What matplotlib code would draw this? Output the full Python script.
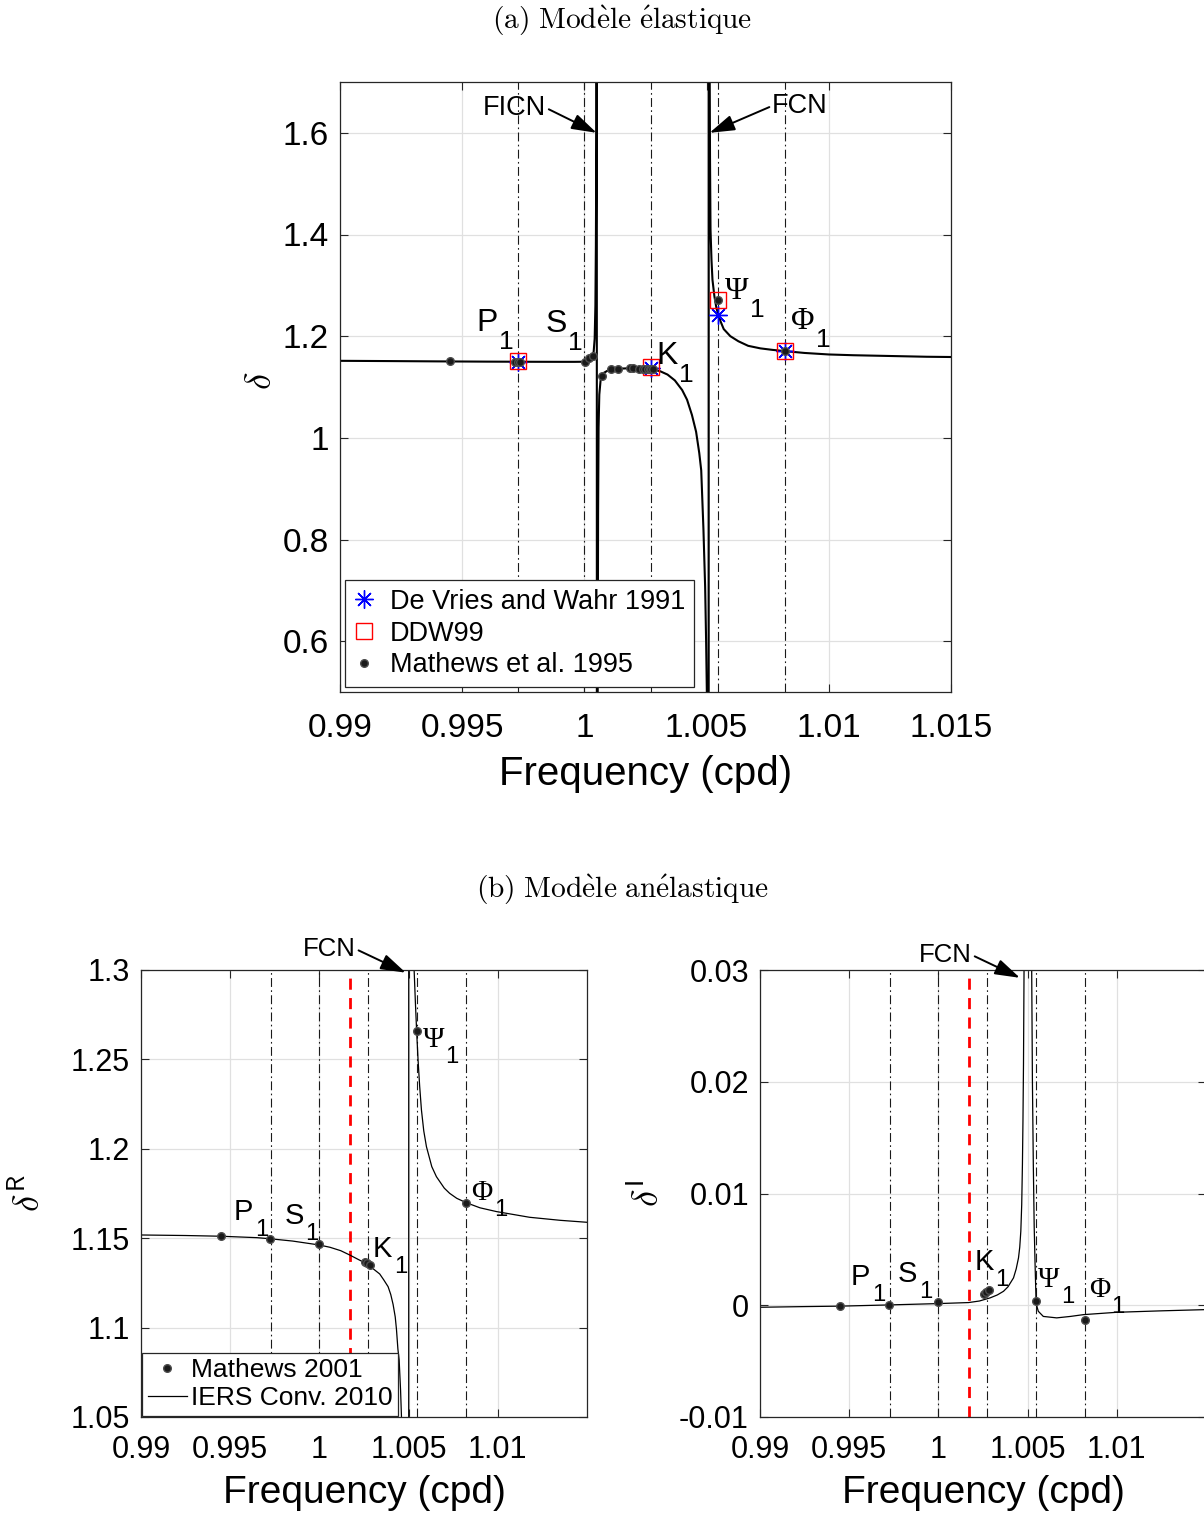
"""Facteur gravimétrique delta autour de la bande diurne (FCN / FICN).

(a) modèle élastique : courbe + valeurs De Vries & Wahr, DDW99, Mathews 1995
(b) modèle anélastique : partie réelle et imaginaire (Mathews 2001, IERS 2010)
"""

import matplotlib.pyplot as plt

plt.rcParams["font.family"] = ["Liberation Sans", "DejaVu Sans"]
plt.rcParams["mathtext.fontset"] = "cm"

# ---- tidal waves (cpd) -------------------------------------------------
TIDE_NAMES = ["P", "S", "K", "\u03a8", "\u03a6"]
TIDE_FREQ = [0.99727, 1.00000, 1.00274, 1.00548, 1.00821]
RED_LINE_FREQ = 1.0017

# ---- (a) elastic model: curve ------------------------------------------
XA_CURVE = [0.9900, 0.9920, 0.9940, 0.9960, 0.9980, 0.9990, 0.9996, 1.0000,
            1.0001, 1.0002, 1.0003, 1.00034, 1.00038, 1.00042, 1.00045,
            1.00047, 1.00049, 1.000505,
            1.000515, 1.00054, 1.00056, 1.00058, 1.00061, 1.00066, 1.00071,
            1.0008, 1.0010, 1.0013, 1.0017, 1.0021, 1.0025, 1.0028, 1.0031,
            1.0034, 1.0037, 1.0040, 1.0042, 1.0044, 1.00457, 1.0047, 1.00478,
            1.00487, 1.00494, 1.00498, 1.00501, 1.00505, 1.00508,
            1.00509, 1.00512, 1.00514, 1.00516, 1.0052, 1.00524, 1.00532,
            1.0054, 1.00548, 1.00558, 1.0057, 1.00597, 1.0063, 1.0067,
            1.0072, 1.0077, 1.0082, 1.0090, 1.0100, 1.0110, 1.0125, 1.0140,
            1.0150]
YA_CURVE = [1.1515, 1.1510, 1.1504, 1.1499, 1.1496, 1.1495, 1.1495, 1.1497,
            1.1515, 1.1555, 1.1590, 1.1615, 1.1700, 1.1950, 1.2600,
            1.3800, 1.6000, 4.0,
            -4.0, 0.40, 0.85, 1.02, 1.085, 1.112, 1.121,
            1.128, 1.1335, 1.1358, 1.1366, 1.1364, 1.1358, 1.1345, 1.1310,
            1.1245, 1.1130, 1.0940, 1.0750, 1.0450, 1.0120, 0.9700, 0.9360,
            0.8210, 0.7070, 0.6000, 0.5000, 0.2000, -4.0,
            4.0, 1.80, 1.55, 1.41, 1.35, 1.311, 1.278,
            1.256, 1.242, 1.228, 1.214, 1.200, 1.190, 1.181,
            1.176, 1.173, 1.1706, 1.167, 1.164, 1.1625, 1.161, 1.1595,
            1.159]

DV_X = [0.99727, 1.00274, 1.00548, 1.00821]
DV_Y = [1.150, 1.137, 1.241, 1.170]
DDW_X = [0.99727, 1.00274, 1.00548, 1.00821]
DDW_Y = [1.151, 1.139, 1.2706, 1.1715]
M95_X = [0.99450, 0.99718, 0.99727, 0.99735, 1.00002, 1.00020, 1.00034,
         1.00071, 1.00110, 1.00139, 1.00187, 1.00200, 1.00224, 1.00238,
         1.00250, 1.00260, 1.00268, 1.00274, 1.00280, 1.00548, 1.00821]
M95_Y = [1.1510, 1.1496, 1.1496, 1.1496, 1.1496, 1.1563, 1.1614,
         1.1210, 1.1345, 1.1362, 1.1366, 1.1364, 1.1360, 1.1357,
         1.1355, 1.1352, 1.1350, 1.1350, 1.1347, 1.2706, 1.1706]

# ---- (b) anelastic model: real part -----------------------------------
XR_CURVE = [0.9900, 0.9925, 0.99448, 0.9965, 0.99722, 0.9985, 1.0000, 1.0006,
            1.0012, 1.0017, 1.0022, 1.0026, 1.0030, 1.00338, 1.0036, 1.00385,
            1.0040, 1.00413, 1.00425, 1.00432, 1.0044, 1.00447, 1.00455,
            1.00460, 1.0047, 1.0049, 1.00500,
            1.00501, 1.00515, 1.00525, 1.00531, 1.00538, 1.00545, 1.00553,
            1.00562, 1.00572, 1.00585, 1.0060, 1.0063, 1.00656, 1.0070,
            1.0073, 1.0077, 1.00822, 1.0090, 1.00992, 1.01178, 1.0135, 1.0150]
YR_CURVE = [1.1518, 1.1515, 1.1511, 1.1503, 1.1497, 1.1484, 1.1462, 1.1449,
            1.1430, 1.1406, 1.1380, 1.1360, 1.1330, 1.1300, 1.1268, 1.1229,
            1.1185, 1.1130, 1.1060, 1.0990, 1.0880, 1.0819, 1.0650,
            1.0502, 1.0100, 0.9000, -3.0,
            3.0, 1.45, 1.34, 1.300, 1.282, 1.2659, 1.2497,
            1.235, 1.2217, 1.210, 1.2012, 1.190, 1.1844, 1.178,
            1.1751, 1.1723, 1.1699, 1.1670, 1.1649, 1.1617, 1.1600, 1.1589]
M01_X = [0.99448, 0.99722, 0.99999, 1.00258, 1.00265, 1.00282, 1.00545, 1.00822]
M01_R = [1.1512, 1.1497, 1.1465, 1.1367, 1.1360, 1.1350, 1.2659, 1.1699]

# ---- (b) anelastic model: imaginary part ------------------------------
XI_CURVE = [0.9900, 0.9925, 0.99450, 0.99726, 1.00001, 1.00169, 1.0023,
            1.0029, 1.0033, 1.00365, 1.0039, 1.00421, 1.00436, 1.00449,
            1.00456, 1.00462, 1.00467, 1.00471, 1.00474, 1.00477, 1.00480,
            1.00486, 1.00495, 1.00505, 1.00512, 1.00518, 1.00523, 1.00527,
            1.00532, 1.00537, 1.00542, 1.00547, 1.00553, 1.00560, 1.00588,
            1.00663, 1.0074, 1.00813, 1.0100, 1.0125, 1.0150]
YI_CURVE = [-0.00018, -0.00012, -0.00008, 0.00003, 0.00015, 0.00024, 0.00038,
            0.00066, 0.00092, 0.00125, 0.00165, 0.00245, 0.00325, 0.00424,
            0.00520, 0.00663, 0.00900, 0.01260, 0.01650, 0.02160, 0.02990,
            0.06, 0.20, 0.25, 0.12, 0.05, 0.0299, 0.0200,
            0.0126, 0.0070, 0.0036, 0.00066, -0.00015, -0.00054, -0.00100,
            -0.00113, -0.00100, -0.00084, -0.00063, -0.00050, -0.00039]
M01_I = [-0.00003, 0.00002, 0.00030, 0.00105, 0.00115, 0.00140, 0.00036, -0.00128]

XTICKS_A = [0.99, 0.995, 1.0, 1.005, 1.01, 1.015]
XLABELS_A = ["0.99", "0.995", "1", "1.005", "1.01", "1.015"]
YTICKS_A = [0.6, 0.8, 1.0, 1.2, 1.4, 1.6]
YLABELS_A = ["0.6", "0.8", "1", "1.2", "1.4", "1.6"]
XTICKS_B = [0.99, 0.995, 1.0, 1.005, 1.01]
XLABELS_B = ["0.99", "0.995", "1", "1.005", "1.01"]
YTICKS_R = [1.05, 1.1, 1.15, 1.2, 1.25, 1.3]
YLABELS_R = ["1.05", "1.1", "1.15", "1.2", "1.25", "1.3"]
YTICKS_I = [-0.01, 0.0, 0.01, 0.02, 0.03]
YLABELS_I = ["-0.01", "0", "0.01", "0.02", "0.03"]

DASHDOT = (0, (8, 3, 1.5, 3))
SERIF = ["Liberation Serif", "DejaVu Serif"]


def style_axes(ax, xticks, xlabels, yticks, ylabels, fs, xpad):
    ax.set_xticks(xticks)
    ax.set_xticklabels(xlabels)
    ax.set_yticks(yticks)
    ax.set_yticklabels(ylabels)
    ax.tick_params(direction="in", top=True, right=True, length=6, width=0.8,
                   labelsize=fs, color="0.15")
    ax.tick_params(axis="x", pad=xpad)
    ax.tick_params(axis="y", pad=8)
    ax.grid(True, color="0.88", lw=0.9)
    ax.set_axisbelow(True)
    for s in ax.spines.values():
        s.set_color("0.15")
        s.set_linewidth(0.9)


def tide_label(ax, x, y, name, fs):
    fam = SERIF if name in ("\u03a8", "\u03a6") else None
    main = ax.text(x, y, name, fontsize=fs, family=fam, va="baseline",
                   ha="left", zorder=6)
    ax.annotate("1", xy=(1.0, 0.0), xycoords=main, xytext=(1, -0.33 * fs),
                textcoords="offset points", fontsize=0.82 * fs,
                va="baseline", ha="left", zorder=6)


def arrow_label(ax, text, tip, pos, fs, left_text):
    ax.annotate(text, xy=tip, xytext=pos, fontsize=fs,
                ha="right" if left_text else "left", va="center",
                annotation_clip=False,
                arrowprops=dict(arrowstyle="-|>,head_length=0.7,head_width=0.22",
                                color="k", lw=1.4, mutation_scale=22,
                                shrinkA=0, shrinkB=0,
                                relpos=(1.0, 0.5) if left_text else (0.0, 0.5)))


def plot_elastic(fig):
    ax = fig.add_axes([340 / 1204, 1 - 692 / 1514, 611 / 1204, 610 / 1514])
    for f in TIDE_FREQ:
        ax.axvline(f, color="0.1", lw=0.8, ls=DASHDOT, zorder=1)
    ax.plot(XA_CURVE, YA_CURVE, color="k", lw=1.5, zorder=2)
    h1, = ax.plot(DV_X, DV_Y, ls="none", marker=(8, 2, 0), ms=13, mew=1.0,
                  color="blue", zorder=3, label="De Vries and Wahr 1991")
    h2, = ax.plot(DDW_X, DDW_Y, ls="none", marker="s", ms=11, mfc="none",
                  mec="red", mew=1.0, zorder=3, label="DDW99")
    h3, = ax.plot(M95_X, M95_Y, ls="none", marker="o", ms=5.5, color="0.1",
                  mec="0.3", zorder=4, label="Mathews et al. 1995")
    ax.set_xlim(0.99, 1.015)
    ax.set_ylim(0.5, 1.7)
    style_axes(ax, XTICKS_A, XLABELS_A, YTICKS_A, YLABELS_A, 24, 15)

    ax.set_xlabel("Frequency (cpd)", fontsize=29, va="center")
    ax.xaxis.set_label_coords(0.5, -0.135)
    ax.set_ylabel(r"$\delta$", fontsize=26, va="center")
    ax.yaxis.set_label_coords(-0.128, 0.51)

    pos = [(0.99556, 1.210), (0.99839, 1.208), (1.00293, 1.145),
           (1.00575, 1.2725), (1.00845, 1.214)]
    for name, (x, y) in zip(TIDE_NAMES, pos):
        tide_label(ax, x, y, name, 23)

    arrow_label(ax, "FICN", (1.00050, 1.60), (0.99843, 1.649), 19.5, True)
    arrow_label(ax, "FCN", (1.00512, 1.60), (1.00768, 1.653), 19.5, False)

    leg = ax.legend(handles=[h1, h2, h3], loc="lower left", fontsize=19.5,
                    frameon=True, fancybox=False, edgecolor="0.15",
                    framealpha=1.0, borderaxespad=0.2, handlelength=0.8,
                    handletextpad=0.55, labelspacing=0.22, borderpad=0.3)
    leg.get_frame().set_linewidth(0.9)
    return ax


def plot_anelastic(fig, left, xs, ys, pts, yticks, ylabels, ylim, ylabel,
                   labels, fcn, with_legend):
    ax = fig.add_axes([left / 1204, 1 - 1417 / 1514, 446 / 1204, 447 / 1514])
    for f in TIDE_FREQ:
        ax.axvline(f, color="0.1", lw=0.8, ls=DASHDOT, zorder=1)
    ax.axvline(RED_LINE_FREQ, color="red", lw=2.0, ls=(0, (4, 3)), zorder=1)
    h_line, = ax.plot(xs, ys, color="k", lw=0.9, zorder=2,
                      label="IERS Conv. 2010")
    h_pts, = ax.plot(M01_X, pts, ls="none", marker="o", ms=5.5, color="0.1",
                     mec="0.3", zorder=4, label="Mathews 2001")
    ax.set_xlim(0.99, 1.015)
    ax.set_ylim(*ylim)
    style_axes(ax, XTICKS_B, XLABELS_B, yticks, ylabels, 22, 13)

    ax.set_xlabel("Frequency (cpd)", fontsize=28, va="center")
    ax.xaxis.set_label_coords(0.5, -0.17)
    ax.set_ylabel(ylabel, fontsize=26, va="center")
    ax.yaxis.set_label_coords(-0.25, 0.5)

    for name, (x, y) in zip(TIDE_NAMES, labels):
        tide_label(ax, x, y, name, 21)

    arrow_label(ax, "FCN", fcn[0], fcn[1], 18.5, True)

    if with_legend:
        leg = ax.legend(handles=[h_pts, h_line], loc="lower left",
                        fontsize=19, frameon=True, fancybox=False,
                        edgecolor="0.15", framealpha=1.0, borderaxespad=0.05,
                        handlelength=1.5, handletextpad=0.15,
                        labelspacing=0.15, borderpad=0.2)
        leg.get_frame().set_linewidth(0.9)
    return ax


def main():
    fig = plt.figure(figsize=(12.04, 15.14), dpi=100)

    fig.text(0.517, 1 - 21 / 1514, r"$\mathrm{(a)\ Mod\`ele\ \'elastique}$",
             ha="center", va="center", fontsize=21.2)
    fig.text(0.517, 1 - 890 / 1514, r"$\mathrm{(b)\ Mod\`ele\ an\'elastique}$",
             ha="center", va="center", fontsize=21.2)

    plot_elastic(fig)

    plot_anelastic(
        fig, 141, XR_CURVE, YR_CURVE, M01_R, YTICKS_R, YLABELS_R, (1.05, 1.3),
        r"$\delta^{\mathsf{R}}$",
        [(0.99521, 1.1602), (0.99806, 1.158), (1.0030, 1.1395),
         (1.00579, 1.257), (1.00853, 1.1714)],
        ((1.00484, 1.2985), (1.00204, 1.3117)), True)

    plot_anelastic(
        fig, 760, XI_CURVE, YI_CURVE, M01_I, YTICKS_I, YLABELS_I, (-0.01, 0.03),
        r"$\delta^{\mathsf{I}}$",
        [(0.9951, 0.00181), (0.99773, 0.00208), (1.00204, 0.00315),
         (1.00557, 0.00163), (1.00843, 0.00074)],
        ((1.00457, 0.0293), (1.00188, 0.03134)), False)

    fig.savefig("out.png", dpi=100)
    plt.close(fig)


if __name__ == "__main__":
    main()
